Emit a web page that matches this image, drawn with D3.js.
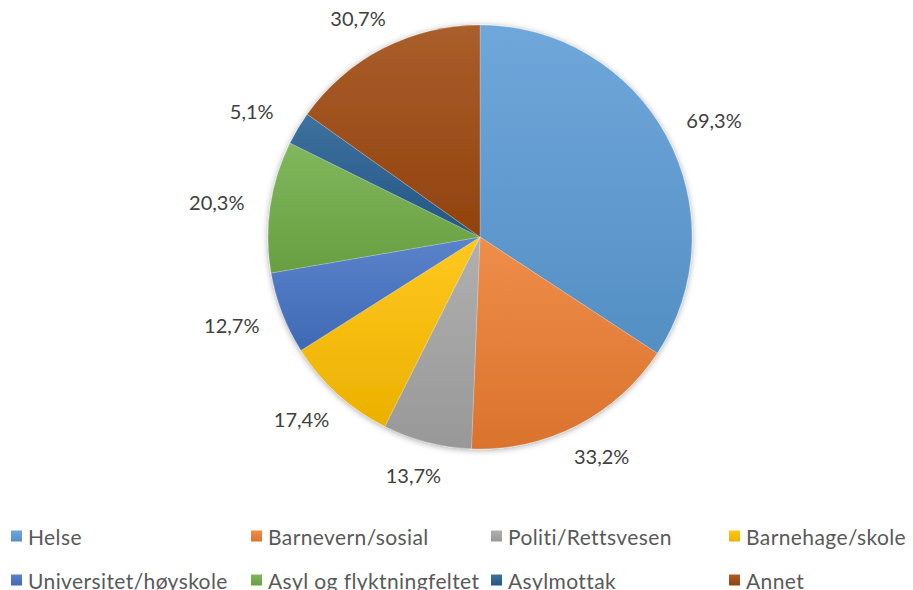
<!DOCTYPE html>
<html>
<head>
<meta charset="utf-8">
<script src="https://cdn.jsdelivr.net/npm/d3@7"></script>
<style>
  body { margin: 0; background: #fff; }
  text { font-family: Lato, "Open Sans", sans-serif; }
</style>
</head>
<body>
<script>
// data
const categories = ["Helse", "Barnevern/sosial", "Politi/Rettsvesen", "Barnehage/skole",
  "Universitet/høyskole", "Asyl og flyktningfeltet", "Asylmottak", "Annet"];
const values = [69.3, 33.2, 13.7, 17.4, 12.7, 20.3, 5.1, 30.7];
const colors = ["#5B9BD5", "#ED7D31", "#A5A5A5", "#FFC000", "#4472C4", "#70AD47", "#255E91", "#9E480E"];

let width = 913, height = 590;
let cx = 480, cy = 237, radius = 212;

let svg = d3.select('body')
  .append('svg')
    .attr('width', width)
    .attr('height', height);

let defs = svg.append('defs');

let shadow = defs.append('filter')
  .attr('id', 'shadow')
  .attr('x', '-10%').attr('y', '-10%')
  .attr('width', '120%').attr('height', '120%');
shadow.append('feDropShadow')
  .attr('dx', 0).attr('dy', 1)
  .attr('stdDeviation', 3)
  .attr('flood-color', '#000')
  .attr('flood-opacity', 0.35);

// one vertical gradient per slice, light on top, dark below
colors.forEach((c, i) => {
  let g = defs.append('linearGradient')
    .attr('id', 'grad' + i)
    .attr('x1', 0).attr('y1', 0).attr('x2', 0).attr('y2', 1);
  g.append('stop').attr('offset', '0%').attr('stop-color', d3.interpolateRgb(c, '#fff')(0.12));
  g.append('stop').attr('offset', '100%').attr('stop-color', d3.interpolateRgb(c, '#000')(0.08));
});

let pie = d3.pie().sort(null).value(d => d);
let arcs = pie(values);

let arc = d3.arc().innerRadius(0).outerRadius(radius);

let chart = svg.append('g')
  .attr('transform', `translate(${cx},${cy})`);

chart.append('g')
  .attr('filter', 'url(#shadow)')
  .selectAll('path')
    .data(arcs)
  .enter()
  .append('path')
    .attr('d', arc)
    .attr('fill', (d, i) => `url(#grad${i})`)
    .attr('stroke', 'rgba(255,255,255,0.35)')
    .attr('stroke-width', 0.6);

// labels outside the end of each slice
let fmt = v => d3.format('.1f')(v).replace('.', ',') + '%';
let labelW = 60, labelH = 20, gap = 24;

chart.selectAll('text.lbl')
    .data(arcs)
  .enter()
  .append('text')
    .attr('class', 'lbl')
    .attr('x', d => {
      let a = (d.startAngle + d.endAngle) / 2;
      return Math.sin(a) * (radius + gap) + Math.sin(a) * labelW / 2;
    })
    .attr('y', d => {
      let a = (d.startAngle + d.endAngle) / 2;
      return -Math.cos(a) * (radius + gap) - Math.cos(a) * labelH / 2;
    })
    .attr('text-anchor', 'middle')
    .attr('dominant-baseline', 'central')
    .style('font-size', '20px')
    .style('fill', '#404040')
    .text((d, i) => fmt(values[i]));

// legend (bottom row is clipped by the frame, as in the original)
let colX = [11, 251, 491, 729];
let rowY = [536, 580];

let legend = svg.selectAll('g.legend')
    .data(categories)
  .enter()
  .append('g')
    .attr('class', 'legend')
    .attr('transform', (d, i) => `translate(${colX[i % 4]},${rowY[Math.floor(i / 4)]})`);

legend.append('rect')
  .attr('x', 0)
  .attr('y', -5.5)
  .attr('width', 11)
  .attr('height', 11)
  .attr('fill', (d, i) => `url(#grad${i})`);

legend.append('text')
  .attr('x', 17)
  .attr('y', 0)
  .attr('dominant-baseline', 'central')
  .style('font-size', '21px')
  .style('letter-spacing', '0.4px')
  .style('fill', '#595959')
  .text(d => d);
</script>
</body>
</html>
